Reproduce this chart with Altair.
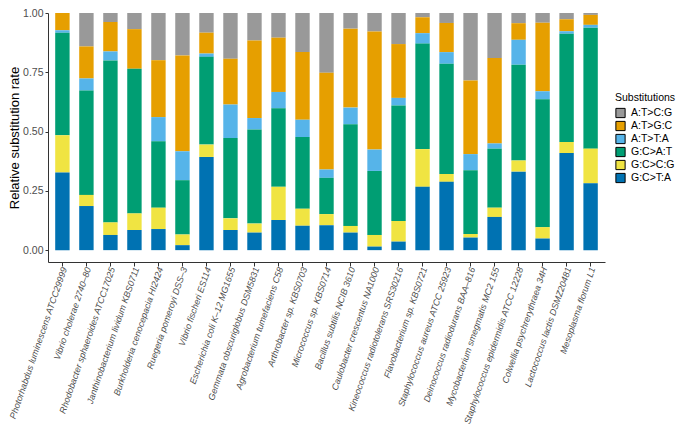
import altair as alt
import pandas as pd

species = [
    "Photorhabdus luminescens ATCC29999", "Vibrio cholerae 2740\u201380",
    "Rhodobacter sphaeroides ATCC17025", "Janthinobacterium lividum KBS0711",
    "Burkholderia cenocepacia HI2424", "Ruegeria pomeroyi DSS\u20133",
    "Vibrio fischeri ES114", "Escherichia coli K\u201312 MG1655",
    "Gemmata obscuriglobus DSM5831", "Agrobacterium tumefaciens C58",
    "Arthrobacter sp. KBS0703", "Micrococcus sp. KBS0714",
    "Bacillus subtilis NCIB 3610", "Caulobacter crescentus NA1000",
    "Kineococcus radiotolerans SRS30216", "Flavobacterium sp. KBS0721",
    "Staphylococcus aureus ATCC 25923", "Deinococcus radiodurans BAA\u2013816",
    "Mycobacterium smegmatis MC2 155", "Staphylococcus epidermidis ATCC 12228",
    "Colwellia psychrerythraea 34H", "Lactococcus lactis DSMZ20481",
    "Mesoplasma florum L1",
]

substitutions = ["A:T>C:G", "A:T>G:C", "A:T>T:A", "G:C>A:T", "G:C>C:G", "G:C>T:A"]
colors = ["#999999", "#E69F00", "#56B4E9", "#009E73", "#F0E442", "#0072B2"]

gc_ta = [0.327, 0.186, 0.064, 0.085, 0.089, 0.021, 0.393, 0.085, 0.074, 0.127, 0.103, 0.105,
         0.074, 0.015, 0.036, 0.267, 0.288, 0.053, 0.140, 0.331, 0.049, 0.410, 0.282]
gc_cg = [0.157, 0.047, 0.053, 0.070, 0.090, 0.045, 0.052, 0.049, 0.038, 0.140, 0.072, 0.047,
         0.028, 0.049, 0.087, 0.159, 0.033, 0.015, 0.039, 0.047, 0.048, 0.046, 0.146]
gc_at = [0.433, 0.440, 0.683, 0.610, 0.280, 0.229, 0.370, 0.339, 0.397, 0.331, 0.302, 0.153,
         0.429, 0.270, 0.487, 0.445, 0.465, 0.269, 0.249, 0.404, 0.539, 0.457, 0.510]
at_ta = [0.010, 0.051, 0.038, 0.000, 0.102, 0.122, 0.014, 0.141, 0.048, 0.069, 0.073, 0.035,
         0.070, 0.090, 0.032, 0.044, 0.049, 0.068, 0.022, 0.105, 0.034, 0.010, 0.012]
at_gc = [0.073, 0.135, 0.124, 0.167, 0.240, 0.404, 0.088, 0.193, 0.327, 0.229, 0.286, 0.408,
         0.333, 0.498, 0.227, 0.067, 0.123, 0.310, 0.360, 0.070, 0.289, 0.051, 0.042]
at_cg = [0.000, 0.141, 0.038, 0.068, 0.199, 0.179, 0.083, 0.193, 0.116, 0.104, 0.164, 0.252,
         0.066, 0.078, 0.131, 0.018, 0.042, 0.285, 0.190, 0.043, 0.041, 0.026, 0.008]

series = {
    "A:T>C:G": at_cg, "A:T>G:C": at_gc, "A:T>T:A": at_ta,
    "G:C>A:T": gc_at, "G:C>C:G": gc_cg, "G:C>T:A": gc_ta,
}
stack_rank = {"G:C>T:A": 0, "G:C>C:G": 1, "G:C>A:T": 2, "A:T>T:A": 3, "A:T>G:C": 4, "A:T>C:G": 5}

rows = []
for sub, vals in series.items():
    for sp, v in zip(species, vals):
        rows.append({"species": sp, "sub": sub, "rate": v, "rank": stack_rank[sub]})
df = pd.DataFrame(rows)

FONT = "Liberation Sans"

chart = alt.Chart(df).mark_bar().encode(
    x=alt.X("species:N", sort=species, title=None,
            scale=alt.Scale(paddingInner=0.4, paddingOuter=0.3),
            axis=alt.Axis(labelAngle=-71, labelAlign="right", labelBaseline="middle",
                          labelFontStyle="italic", labelFontSize=9, labelColor="#4D4D4D",
                          labelFont=FONT, tickColor="#333333", tickSize=4, labelPadding=1,
                          labelOffset=2,
                          domainColor="#333333", labelLimit=300)),
    y=alt.Y("rate:Q", stack="zero", title="Relative substitution rate",
            scale=alt.Scale(domain=[-0.05, 1.0], nice=False, zero=False),
            axis=alt.Axis(values=[0, 0.25, 0.5, 0.75, 1.0], format=".2f", grid=False,
                          labelFontSize=10.5, labelColor="#4D4D4D", labelFont=FONT,
                          tickColor="#333333", tickSize=3, labelPadding=2,
                          domainColor="#333333", titleFont=FONT, titleFontSize=13,
                          titleFontWeight="normal", titleColor="black", titlePadding=1)),
    color=alt.Color("sub:N", scale=alt.Scale(domain=substitutions, range=colors),
                    legend=alt.Legend(title="Substitutions", orient="none", legendX=567,
                                      legendY=80, padding=0, symbolType="square",
                                      symbolSize=85, symbolStrokeColor="black",
                                      symbolStrokeWidth=1, symbolOpacity=1, rowPadding=-8.5,
                                      labelFontSize=10.5, titleFontSize=10.5, titleFont=FONT,
                                      labelFont=FONT, titleFontWeight="normal",
                                      labelColor="black", titleColor="black",
                                      labelOffset=5, titlePadding=4)),
    order=alt.Order("rank:Q", sort="ascending"),
).properties(
    width=557, height=249,
    autosize=alt.AutoSizeParams(type="none"),
    padding={"left": 40, "top": 5, "right": 72, "bottom": 168},
).configure_view(stroke=None)

chart.save("out.html", embed_options={"renderer": "svg", "actions": False})
